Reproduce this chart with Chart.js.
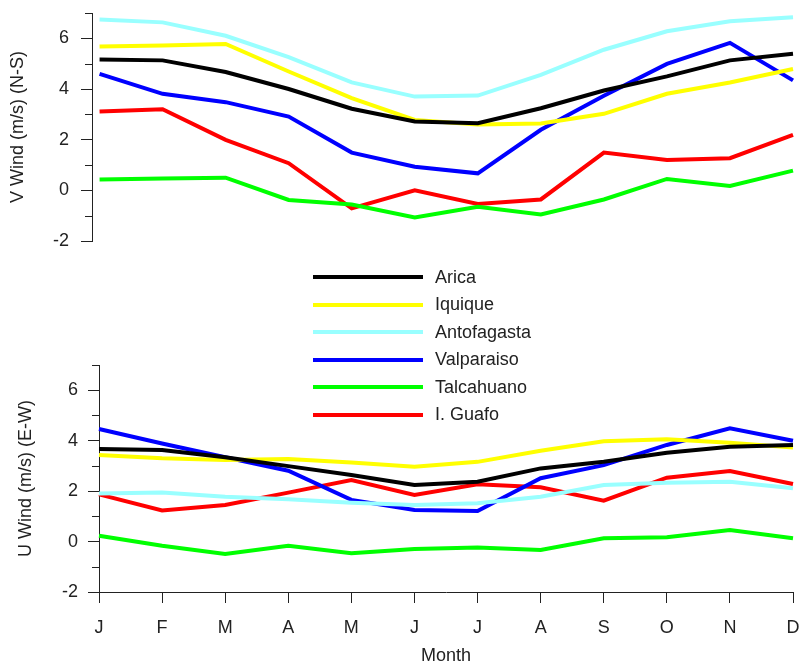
<!DOCTYPE html>
<html>
<head>
<meta charset="utf-8">
<script src="https://cdn.jsdelivr.net/npm/chart.js@4.4.1/dist/chart.umd.min.js"></script>
<style>
  body { margin: 0; background: #fff; }
  #wrap { position: relative; width: 800px; height: 664px; }
  #c1 { position: absolute; left: 0; top: 0; }
  #c2 { position: absolute; left: 0; top: 330px; }
  #legend { position: absolute; left: 313px; top: 263.5px; z-index: 2;
            font: 18px Arial, "Liberation Sans", sans-serif; color: #222; }
  .row { height: 27.5px; display: flex; align-items: center; }
  .sw { width: 110px; height: 4px; margin-right: 12px; }
</style>
</head>
<body>
<div id="wrap">
  <canvas id="c1" width="800" height="260"></canvas>
  <canvas id="c2" width="800" height="334"></canvas>
  <div id="legend"></div>
</div>
<script>
// month labels and station names
const months = ['J','F','M','A','M','J','J','A','S','O','N','D'];
const stations = ['Arica','Iquique','Antofagasta','Valparaiso','Talcahuano','I. Guafo'];
const colors = ['#000000','#ffff00','#99ffff','#0000ff','#00ff00','#ff0000'];

// V wind (N-S), m/s
const vArica       = [5.16, 5.13, 4.67, 4.00, 3.22, 2.72, 2.65, 3.24, 3.94, 4.50, 5.13, 5.39];
const vIquique     = [5.68, 5.72, 5.78, 4.69, 3.64, 2.78, 2.60, 2.64, 3.02, 3.81, 4.26, 4.79];
const vAntofagasta = [6.74, 6.63, 6.10, 5.26, 4.26, 3.70, 3.74, 4.56, 5.55, 6.28, 6.67, 6.83];
const vValparaiso  = [4.60, 3.81, 3.48, 2.91, 1.49, 0.93, 0.67, 2.39, 3.73, 4.99, 5.82, 4.34];
const vTalcahuano  = [0.43, 0.47, 0.50, -0.38, -0.56, -1.07, -0.65, -0.95, -0.36, 0.45, 0.17, 0.78];
const vGuafo       = [3.11, 3.20, 1.99, 1.07, -0.71, 0.00, -0.54, -0.36, 1.49, 1.20, 1.27, 2.19];

// U wind (E-W), m/s
const uArica       = [3.67, 3.63, 3.34, 2.99, 2.64, 2.24, 2.37, 2.90, 3.16, 3.52, 3.76, 3.83];
const uIquique     = [3.43, 3.30, 3.23, 3.27, 3.13, 2.97, 3.16, 3.60, 3.98, 4.06, 3.92, 3.73];
const uAntofagasta = [1.91, 1.94, 1.78, 1.68, 1.54, 1.45, 1.52, 1.78, 2.24, 2.33, 2.37, 2.11];
const uValparaiso  = [4.46, 3.89, 3.34, 2.81, 1.65, 1.25, 1.21, 2.51, 3.03, 3.83, 4.49, 4.00];
const uTalcahuano  = [0.23, -0.17, -0.49, -0.17, -0.46, -0.30, -0.24, -0.33, 0.13, 0.17, 0.46, 0.13];
const uGuafo       = [1.87, 1.23, 1.45, 1.94, 2.44, 1.85, 2.27, 2.15, 1.62, 2.53, 2.80, 2.28];

const vSeries = [vArica, vIquique, vAntofagasta, vValparaiso, vTalcahuano, vGuafo];
const uSeries = [uArica, uIquique, uAntofagasta, uValparaiso, uTalcahuano, uGuafo];

const FONT = 'Arial, "Liberation Sans", sans-serif';
const axisColor = '#222';

// short ticks at the odd values
const minorTicks = {
  id: 'minorTicks',
  afterDraw(chart) {
    const s = chart.scales.y, ctx = chart.ctx;
    ctx.save();
    ctx.strokeStyle = axisColor;
    ctx.lineWidth = 1;
    for (let v = s.min; v <= s.max; v++) {
      if (v % 2 === 0) continue;
      const y = Math.round(s.getPixelForValue(v)) + 0.5;
      ctx.beginPath();
      ctx.moveTo(s.right - 7, y);
      ctx.lineTo(s.right, y);
      ctx.stroke();
    }
    ctx.restore();
  }
};

function makeDatasets(series) {
  return series.map((vals, i) => ({
    label: stations[i],
    data: vals.map((v, k) => ({ x: k, y: v })),
    borderColor: colors[i],
    borderWidth: 4,
    pointRadius: 0,
    tension: 0,
    clip: false
  }));
}

function yScale(title, width, tpad, lpad) {
  return {
    min: -2, max: 7,
    afterFit(s) { s.width = width; s.paddingTop = 0; s.paddingBottom = 0; },
    ticks: {
      stepSize: 1,
      padding: lpad,
      color: axisColor,
      font: { family: FONT, size: 18 },
      callback: v => (v % 2 === 0 ? v : '')
    },
    grid: {
      drawOnChartArea: false,
      tickLength: 11,
      tickColor: c => (c.tick && c.tick.value % 2 === 0 ? axisColor : 'rgba(0,0,0,0)')
    },
    border: { color: axisColor, width: 1 },
    title: {
      display: true, text: title, color: axisColor,
      font: { family: FONT, size: 18 },
      padding: { top: tpad, bottom: 0 }
    }
  };
}

// top panel: V wind
new Chart(document.getElementById('c1'), {
  type: 'line',
  data: { datasets: makeDatasets(vSeries) },
  plugins: [minorTicks],
  options: {
    responsive: false,
    animation: false,
    layout: { padding: { top: 13, bottom: 19, right: 7, left: 0 } },
    plugins: { legend: { display: false }, tooltip: { enabled: false } },
    scales: {
      x: { type: 'linear', min: -0.12, max: 11, display: false },
      y: yScale('V Wind (m/s) (N-S)', 92, 7, 12)
    }
  }
});

// bottom panel: U wind
new Chart(document.getElementById('c2'), {
  type: 'line',
  data: { datasets: makeDatasets(uSeries) },
  plugins: [minorTicks],
  options: {
    responsive: false,
    animation: false,
    layout: { padding: { top: 35, bottom: 0, right: 7, left: 0 } },
    plugins: { legend: { display: false }, tooltip: { enabled: false } },
    scales: {
      x: {
        type: 'linear', min: 0, max: 11,
        afterFit(s) { s.height = 72; s.paddingLeft = 0; s.paddingRight = 0; },
        ticks: {
          stepSize: 1, padding: 14, color: axisColor, maxRotation: 0,
          font: { family: FONT, size: 18 },
          callback: v => months[v]
        },
        grid: { drawOnChartArea: false, tickLength: 11, tickColor: axisColor },
        border: { color: axisColor, width: 1 },
        title: {
          display: true, text: 'Month', color: axisColor,
          font: { family: FONT, size: 18 },
          padding: { top: 0, bottom: -3 }
        }
      },
      y: yScale('U Wind (m/s) (E-W)', 99, 15, 10)
    }
  }
});

// shared legend
const legend = document.getElementById('legend');
stations.forEach((name, i) => {
  const row = document.createElement('div');
  row.className = 'row';
  row.innerHTML = '<span class="sw" style="background:' + colors[i] + '"></span><span>' + name + '</span>';
  legend.appendChild(row);
});
</script>
</body>
</html>
